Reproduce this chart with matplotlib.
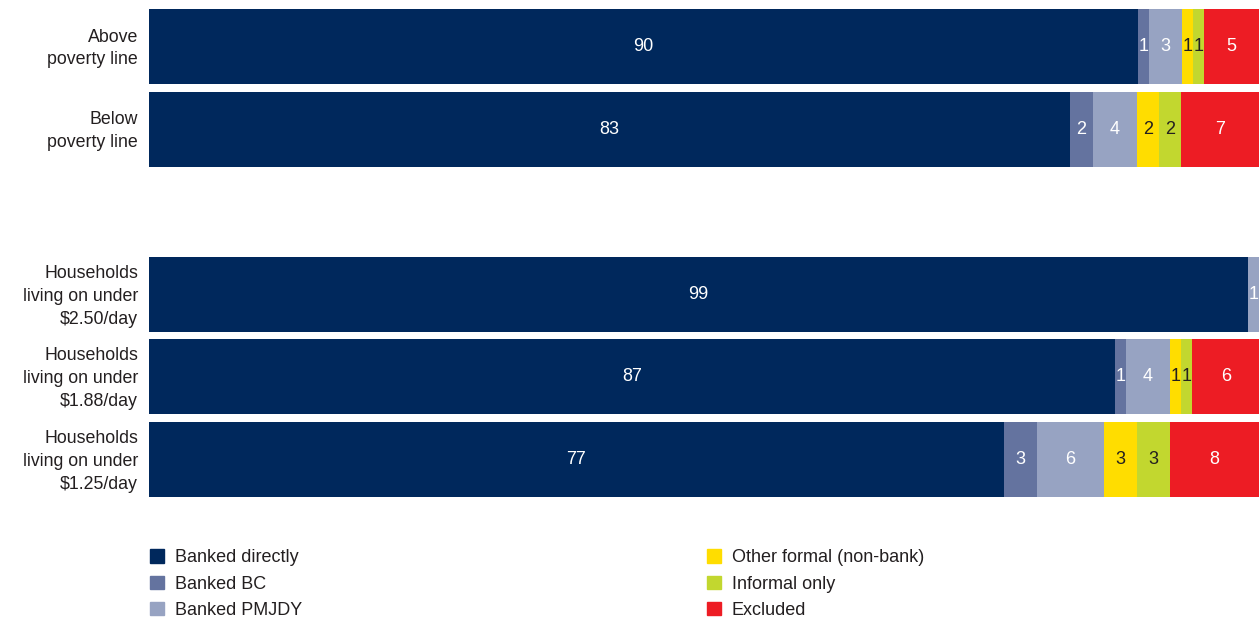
import numpy as np
import matplotlib
matplotlib.use("Agg")
from matplotlib import pyplot as plt
from matplotlib.patches import Patch
from matplotlib import font_manager, transforms

rows = ["Above\npoverty line", "Below\npoverty line",
        "Households\nliving on under\n$2.50/day",
        "Households\nliving on under\n$1.88/day",
        "Households\nliving on under\n$1.25/day"]
row_pos = [0, 1, 3, 4, 5]

categories = ["Banked directly", "Banked BC", "Banked PMJDY",
              "Other formal (non-bank)", "Informal only", "Excluded"]
banked_directly = [90, 83, 99, 87, 77]
banked_bc = [1, 2, 0, 1, 3]
banked_pmjdy = [3, 4, 1, 4, 6]
other_formal = [1, 2, 0, 1, 3]
informal_only = [1, 2, 0, 1, 3]
excluded = [5, 7, 0, 6, 8]

colors = ["#00285C", "#64739F", "#97A3C2", "#FFDD00", "#C2D72F", "#ED1C24"]
label_colors = ["white", "white", "white", "#231F20", "#231F20", "white"]

names = [f.name for f in font_manager.fontManager.ttflist]
fam = "Liberation Sans Narrow" if "Liberation Sans Narrow" in names else "Liberation Sans"
plt.rcParams["font.family"] = [fam, "DejaVu Sans"]

series = np.array([banked_directly, banked_bc, banked_pmjdy,
                   other_formal, informal_only, excluded], dtype=float)
shares = series / series.sum(axis=0) * 100

fig = plt.figure(figsize=(12.6, 6.21), dpi=100)
ax = fig.add_axes([149 / 1260, 1 - 497 / 621, 1110 / 1260, 488 / 621])

left = np.zeros(len(rows))
for k in range(len(categories)):
    ax.barh(row_pos, shares[k], left=left, height=0.91, color=colors[k],
            label=categories[k], linewidth=0)
    for j in range(len(rows)):
        if series[k, j] > 0:
            ax.text(left[j] + shares[k, j] / 2, row_pos[j], "%d" % series[k, j],
                    ha="center", va="center", fontsize=13, color=label_colors[k])
    left += shares[k]

ax.set_xlim(0, 100)
ax.set_ylim(5.455, -0.455)
ax.set_yticks(row_pos)
ax.set_yticklabels(rows, fontsize=12.8, color="#231F20", linespacing=1.45)
ax.tick_params(axis="y", length=0, pad=8)
ax.set_xticks([])
for s in ax.spines.values():
    s.set_visible(False)

# nudge tick labels up a little
shift = transforms.ScaledTranslation(0, 3 / 100, fig.dpi_scale_trans)
for lab in ax.get_yticklabels():
    lab.set_transform(lab.get_transform() + shift)

handles = [Patch(color=c) for c in colors]
for hs, ls, x0 in [(handles[:3], categories[:3], 134), (handles[3:], categories[3:], 691)]:
    fig.legend(hs, ls, loc="upper left",
               bbox_to_anchor=(x0 / 1260, 1 - 533 / 621), frameon=False,
               fontsize=13, handlelength=0.75, handleheight=0.75, handletextpad=0.6,
               labelspacing=0.52, labelcolor="#231F20")

fig.savefig("out.png", dpi=100)
